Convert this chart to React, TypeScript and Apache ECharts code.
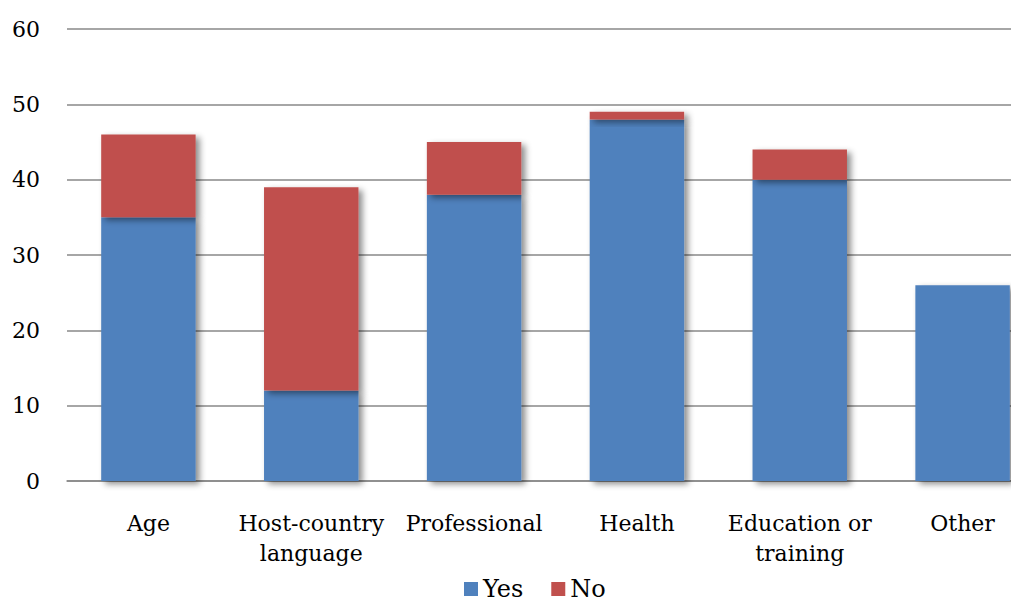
import React, { useEffect, useRef } from "react";
import * as echarts from "echarts";

const categories = ["Age", "Host-country\nlanguage", "Professional", "Health", "Education or\ntraining", "Other"];
const yesValues = [35, 12, 38, 48, 40, 26];
const noValues = [11, 27, 7, 1, 4, 0];
const seriesNames = ["Yes", "No"];
const colors = ["#4F81BD", "#C0504D"];

const FONT = "'DejaVu Serif', 'Liberation Serif', serif";

export default function App() {
  const ref = useRef<HTMLDivElement>(null);
  useEffect(() => {
    document.body.style.margin = "0";
    document.body.style.overflow = "hidden";
    const chart = echarts.init(ref.current!, null, { renderer: "svg" });
    const shadow = {
      shadowColor: "rgba(0,0,0,0.45)",
      shadowBlur: 6,
      shadowOffsetX: 4,
      shadowOffsetY: 3,
    };
    chart.setOption({
      animation: false,
      backgroundColor: "#ffffff",
      grid: { left: 67, right: 0, top: 29, bottom: 122, containLabel: false },
      legend: {
        data: seriesNames,
        top: 576,
        left: 464,
        padding: 0,
        itemWidth: 14,
        itemHeight: 14,
        itemGap: 28,
        icon: "rect",
        textStyle: { fontFamily: FONT, fontSize: 24, color: "#000", lineHeight: 26 },
      },
      xAxis: {
        type: "category",
        data: categories,
        axisLine: { show: true, lineStyle: { color: "#888", width: 1.5 } },
        axisTick: { show: false },
        axisLabel: {
          fontFamily: FONT,
          fontSize: 22,
          color: "#000",
          margin: 27,
          lineHeight: 30,
          interval: 0,
        },
      },
      yAxis: {
        type: "value",
        min: 0,
        max: 60,
        interval: 10,
        axisLine: { show: false },
        axisTick: { show: false },
        splitLine: { lineStyle: { color: "#888", width: 1.5 } },
        axisLabel: { fontFamily: FONT, fontSize: 22, color: "#000", margin: 27 },
      },
      series: [
        {
          name: seriesNames[0],
          type: "bar",
          stack: "total",
          data: yesValues,
          barWidth: "58%",
          itemStyle: { color: colors[0], ...shadow },
        },
        {
          name: seriesNames[1],
          type: "bar",
          stack: "total",
          data: noValues,
          barWidth: "58%",
          itemStyle: { color: colors[1], ...shadow },
        },
      ],
    });
    return () => chart.dispose();
  }, []);
  return (
    <div style={{ position: "fixed", left: 0, top: 0, width: 1011, height: 603, overflow: "hidden", background: "#fff" }}>
      <div ref={ref} style={{ width: 1044, height: 603 }} />
    </div>
  );
}
